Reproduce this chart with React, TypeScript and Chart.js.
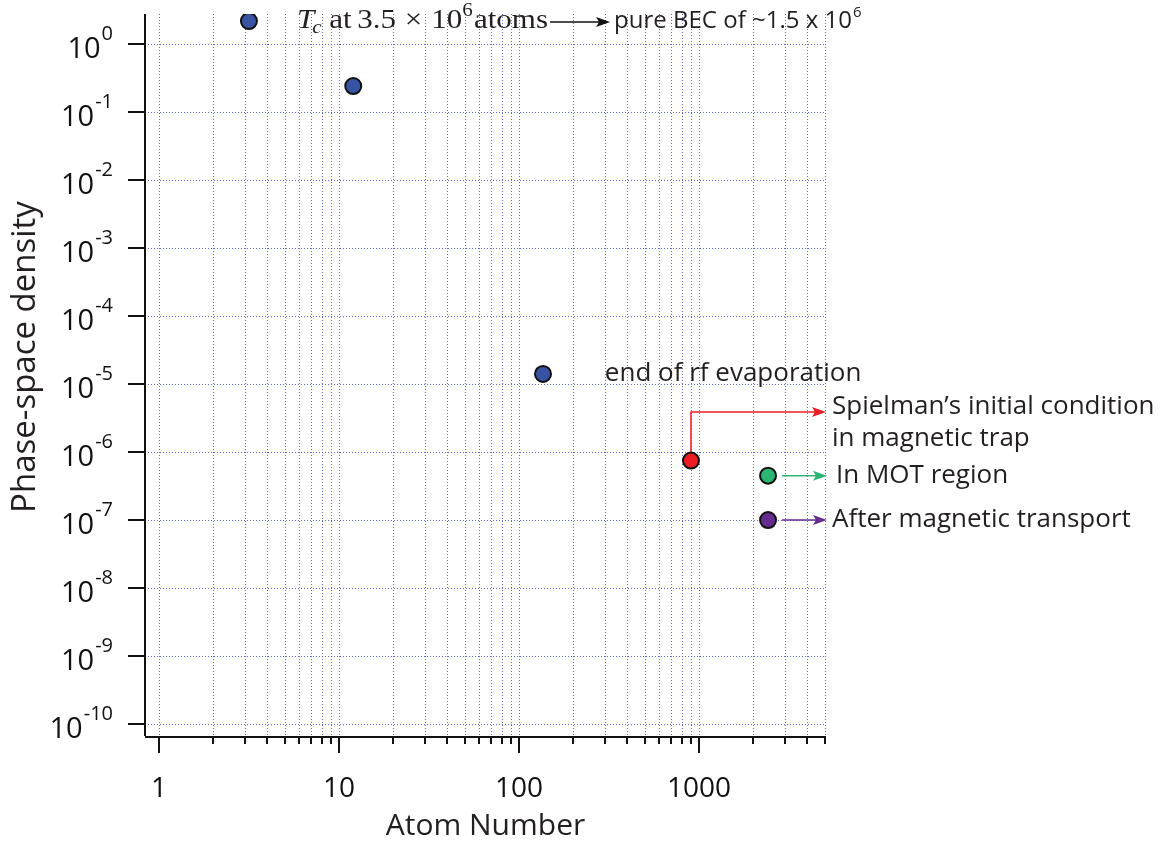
import React, { useEffect, useRef } from "react";
import { Chart, registerables } from "chart.js";

Chart.register(...registerables);

// ---- data ----
const xRange = [0.836, 5080];
const yRange = [6.65e-11, 2.79];
const yTickExponents = [0, -1, -2, -3, -4, -5, -6, -7, -8, -9, -10];
const xMajorTicks = [1, 10, 100, 1000];
const xMinorTicks = [
  2, 3, 4, 5, 6, 7, 8, 9,
  20, 30, 40, 50, 60, 70, 80, 90,
  200, 300, 400, 500, 600, 700, 800, 900,
  2000, 3000, 4000, 5000,
];
const atomNumber = [3.16, 12.0, 136, 903, 2420, 2420];
const phaseSpaceDensity = [2.2, 0.243, 1.41e-5, 7.5e-7, 4.5e-7, 1.0e-7];
const pointColors = ["#3953a4", "#3953a4", "#3953a4", "#ed1c24", "#2bb673", "#662d91"];
const xTitle = "Atom Number";
const yTitle = "Phase-space density";
const rfLabel = "end of rf evaporation";
const rfLabelX = 300;
const spielmanLines = ["Spielman\u2019s initial condition", "in magnetic trap"];
const spielmanCornerY = 3.9e-6;
const motLabel = "In MOT region";
const transportLabel = "After magnetic transport";
const tcLabelX = 5.85;
const becLabel = "pure BEC of ~1.5 x 10";
const becExp = "6";

const SANS = '"Open Sans", "Noto Sans", sans-serif';
const SERIF = '"Liberation Serif", "DejaVu Serif", serif';

function arrowHead(ctx: CanvasRenderingContext2D, x: number, y: number, color: string) {
  ctx.save();
  ctx.fillStyle = color;
  ctx.beginPath();
  ctx.moveTo(x, y);
  ctx.lineTo(x - 14, y - 5);
  ctx.lineTo(x - 11, y);
  ctx.lineTo(x - 14, y + 5);
  ctx.closePath();
  ctx.fill();
  ctx.restore();
}

function hArrow(ctx: CanvasRenderingContext2D, x1: number, x2: number, y: number, color: string, w = 1.5) {
  ctx.save();
  ctx.strokeStyle = color;
  ctx.lineWidth = w;
  ctx.beginPath();
  ctx.moveTo(x1, y);
  ctx.lineTo(x2 - 10, y);
  ctx.stroke();
  ctx.restore();
  arrowHead(ctx, x2, y, color);
}

const drawPlugin = {
  id: "customDraw",
  beforeDatasetsDraw(chart: any) {
    const { ctx, chartArea: a, scales } = chart;
    const xs = scales.x;
    const ys = scales.y;
    // grid
    ctx.save();
    ctx.strokeStyle = "rgba(70,80,190,0.85)";
    ctx.lineWidth = 1;
    ctx.setLineDash([1, 2]);
    [...xMajorTicks, ...xMinorTicks].forEach((v) => {
      const px = Math.round(xs.getPixelForValue(v)) + 0.5;
      ctx.beginPath();
      ctx.moveTo(px, a.top);
      ctx.lineTo(px, a.bottom);
      ctx.stroke();
    });
    yTickExponents.forEach((e) => {
      const py = Math.round(ys.getPixelForValue(Math.pow(10, e))) + 0.5;
      ctx.beginPath();
      ctx.moveTo(a.left, py);
      ctx.lineTo(a.right, py);
      ctx.stroke();
    });
    ctx.restore();

    // arrows
    const rx = xs.getPixelForValue(atomNumber[3]);
    const ry = ys.getPixelForValue(phaseSpaceDensity[3]);
    const cy = ys.getPixelForValue(spielmanCornerY);
    ctx.save();
    ctx.strokeStyle = "#ed1c24";
    ctx.lineWidth = 1.5;
    ctx.beginPath();
    ctx.moveTo(rx, ry);
    ctx.lineTo(rx, cy);
    ctx.lineTo(a.right - 10, cy);
    ctx.stroke();
    ctx.restore();
    arrowHead(ctx, a.right, cy, "#ed1c24");

    const gx = xs.getPixelForValue(atomNumber[4]);
    const gy = ys.getPixelForValue(phaseSpaceDensity[4]);
    hArrow(ctx, gx + 14, a.right + 1, gy, "#2bb673");
    const px = xs.getPixelForValue(atomNumber[5]);
    const py = ys.getPixelForValue(phaseSpaceDensity[5]);
    hArrow(ctx, px + 14, a.right + 1, py, "#662d91");
  },
  afterDraw(chart: any) {
    const { ctx, chartArea: a, scales } = chart;
    const xs = scales.x;
    const ys = scales.y;
    ctx.save();
    // axis lines
    ctx.strokeStyle = "#111";
    ctx.lineWidth = 2;
    ctx.beginPath();
    ctx.moveTo(a.left, a.top);
    ctx.lineTo(a.left, a.bottom);
    ctx.stroke();
    ctx.beginPath();
    ctx.moveTo(a.left, a.bottom + 1);
    ctx.lineTo(a.right, a.bottom + 1);
    ctx.stroke();

    // y ticks and labels
    ctx.fillStyle = "#111";
    yTickExponents.forEach((e) => {
      const py = Math.round(ys.getPixelForValue(Math.pow(10, e)));
      ctx.beginPath();
      ctx.moveTo(a.left - 17, py);
      ctx.lineTo(a.left, py);
      ctx.stroke();
      const right = a.left - 32;
      ctx.textAlign = "right";
      ctx.textBaseline = "alphabetic";
      ctx.font = `20px ${SANS}`;
      const es = String(e);
      ctx.fillText(es, right, py - 4);
      const ew = ctx.measureText(es).width;
      ctx.font = `29px ${SANS}`;
      ctx.fillText("10", right - ew - 1, py + 14);
    });

    // x ticks and labels
    xMajorTicks.forEach((v) => {
      const px = Math.round(xs.getPixelForValue(v));
      ctx.beginPath();
      ctx.moveTo(px, a.bottom + 1);
      ctx.lineTo(px, a.bottom + 17);
      ctx.stroke();
      ctx.font = `28px ${SANS}`;
      ctx.textAlign = "center";
      ctx.textBaseline = "alphabetic";
      ctx.fillText(String(v), px, a.bottom + 61);
    });
    xMinorTicks.forEach((v) => {
      const px = Math.round(xs.getPixelForValue(v));
      ctx.beginPath();
      ctx.moveTo(px, a.bottom + 1);
      ctx.lineTo(px, a.bottom + 8);
      ctx.stroke();
    });

    // axis titles
    ctx.fillStyle = "#231f20";
    ctx.textAlign = "center";
    ctx.font = `30px ${SANS}`;
    ctx.fillText(xTitle, (a.left + a.right) / 2, a.bottom + 99);
    ctx.save();
    ctx.translate(35, 357);
    ctx.rotate(-Math.PI / 2);
    ctx.font = `33px ${SANS}`;
    ctx.fillText(yTitle, 0, 0);
    ctx.restore();

    // annotations
    ctx.textAlign = "left";
    ctx.textBaseline = "middle";
    ctx.font = `26px ${SANS}`;
    ctx.fillText(rfLabel, xs.getPixelForValue(rfLabelX), ys.getPixelForValue(phaseSpaceDensity[2]));
    const cy = ys.getPixelForValue(spielmanCornerY);
    ctx.fillText(spielmanLines[0], a.right + 6, cy - 5);
    ctx.fillText(spielmanLines[1], a.right + 6, cy + 27);
    ctx.fillText(motLabel, a.right + 10, ys.getPixelForValue(phaseSpaceDensity[4]));
    ctx.fillText(transportLabel, a.right + 6, ys.getPixelForValue(phaseSpaceDensity[5]));

    // top label (LaTeX style): T_c at 3.5 x 10^6 atoms
    const ty = ys.getPixelForValue(phaseSpaceDensity[0]);
    const base = ty + 7;
    const x0 = xs.getPixelForValue(tcLabelX);
    const targetW = 251;
    const big = 28;
    const small = 19;
    const segs: { t: string; f: string; dy: number; gap: number }[] = [
      { t: "T", f: `italic ${big}px ${SERIF}`, dy: 0, gap: -2 },
      { t: "c", f: `italic ${small}px ${SERIF}`, dy: 5, gap: 7 },
      { t: "at", f: `${big}px ${SERIF}`, dy: 0, gap: 5 },
      { t: "3.5", f: `${big}px ${SERIF}`, dy: 0, gap: 8 },
      { t: "\u00d7", f: `${big}px ${SERIF}`, dy: 0, gap: 8 },
      { t: "10", f: `${big}px ${SERIF}`, dy: 0, gap: 0 },
      { t: "6", f: `${small}px ${SERIF}`, dy: -12, gap: 1 },
      { t: "atoms", f: `${big}px ${SERIF}`, dy: 0, gap: 0 },
    ];
    let natural = 0;
    segs.forEach((s) => {
      ctx.font = s.f;
      natural += ctx.measureText(s.t).width + s.gap;
    });
    const sx = targetW / natural;
    ctx.save();
    ctx.translate(x0, base);
    ctx.scale(sx, 1);
    ctx.textBaseline = "alphabetic";
    let x = 0;
    segs.forEach((s) => {
      ctx.font = s.f;
      ctx.fillText(s.t, x, s.dy);
      x += ctx.measureText(s.t).width + s.gap;
    });
    ctx.restore();
    let xe = x0 + targetW + 2;
    ctx.strokeStyle = "#111";
    ctx.lineWidth = 1.5;
    ctx.beginPath();
    ctx.moveTo(xe, ty + 1);
    ctx.lineTo(xe + 50, ty + 1);
    ctx.stroke();
    arrowHead(ctx, xe + 60, ty + 1, "#111");
    xe += 64;
    ctx.fillStyle = "#231f20";
    ctx.textBaseline = "alphabetic";
    ctx.font = `24px ${SANS}`;
    ctx.fillText(becLabel, xe, base);
    xe += ctx.measureText(becLabel).width + 1;
    ctx.font = `15px ${SANS}`;
    ctx.fillText(becExp, xe, base - 11);
    ctx.restore();
  },
};

export default function App() {
  const ref = useRef<HTMLCanvasElement | null>(null);
  useEffect(() => {
    if (!ref.current) return;
    const chart = new Chart(ref.current, {
      type: "scatter",
      data: {
        datasets: [
          {
            data: atomNumber.map((v, i) => ({ x: v, y: phaseSpaceDensity[i] })),
            backgroundColor: pointColors,
            borderColor: "#111",
            borderWidth: 2,
            pointRadius: 8,
            pointHoverRadius: 8,
          },
        ],
      },
      options: {
        animation: false,
        responsive: false,
        devicePixelRatio: 1,
        layout: { padding: { top: 14, right: 343, left: 0, bottom: 0 } },
        plugins: { legend: { display: false }, tooltip: { enabled: false } },
        scales: {
          x: {
            type: "logarithmic",
            min: xRange[0],
            max: xRange[1],
            grid: { display: false },
            border: { display: false },
            ticks: { display: false },
            afterFit: (s: any) => {
              s.height = 108;
            },
          },
          y: {
            type: "logarithmic",
            min: yRange[0],
            max: yRange[1],
            grid: { display: false },
            border: { display: false },
            ticks: { display: false },
            afterFit: (s: any) => {
              s.width = 145;
            },
          },
        },
      },
      plugins: [drawPlugin],
    });
    return () => chart.destroy();
  }, []);
  return (
    <div style={{ position: "absolute", left: 0, top: 0, width: 1169, height: 844, background: "#fff" }}>
      <canvas ref={ref} width={1169} height={844} style={{ display: "block" }} />
    </div>
  );
}
